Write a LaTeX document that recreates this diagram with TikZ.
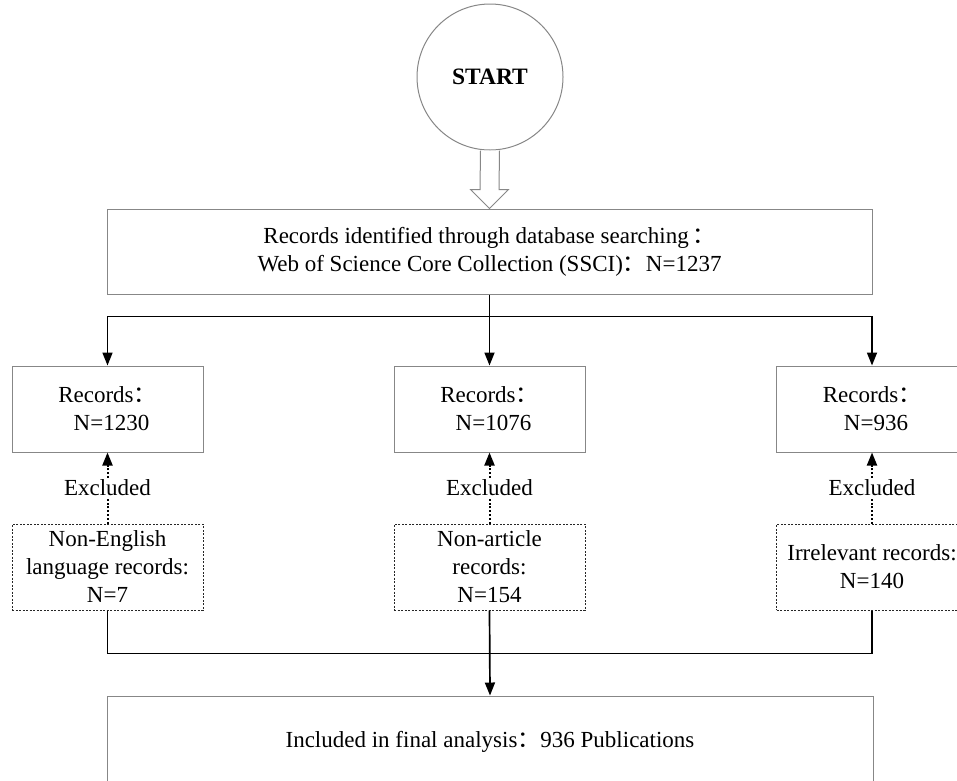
\documentclass[tikz,border=0pt]{standalone}
\usepackage{fontspec}
\setmainfont{Liberation Serif}
\newfontfamily\cjk{Noto Sans CJK SC}
\usetikzlibrary{arrows.meta,calc}
\definecolor{boxgray}{RGB}{135,135,135}
\begin{document}
\begin{tikzpicture}[x=1pt,y=-1pt,
  every node/.style={font=\fontsize{23}{28}\selectfont, align=center, inner sep=0pt},
  solidbox/.style={draw=boxgray, line width=1pt, rectangle},
  dashbox/.style={draw=black!85, line width=1pt, rectangle, dash pattern=on 2pt off 1.5pt},
  conn/.style={draw=black, line width=1.7pt},
  arr/.style={conn, -{Triangle[length=13pt,width=10pt]}},
  dotarr/.style={draw=black, line width=2pt, dash pattern=on 2pt off 1.8pt, -{Triangle[length=13pt,width=10pt]}},
  lbl/.style={fill=white, inner sep=2pt}
]
\useasboundingbox (0,0) rectangle (957,780);
\clip (0,0) rectangle (957,780);

% start
\node[draw=boxgray, line width=1pt, circle, minimum size=146pt, font=\fontsize{23.5}{28}\selectfont\bfseries] (start) at (490,77) {START};

% top box
\node[solidbox, minimum width=765pt, minimum height=85pt] (top) at (489.5,251.5)
  {\fontsize{23}{32}\selectfont Records identified through database searching\,{\cjk ：}\\
   Web of Science Core Collection (SSCI){\cjk ：}N=1237};

% hollow arrow
\draw[boxgray, line width=1pt, fill=white]
  ($(start.south)+(-9.5,0)$) -- ($(top.north)+(-9.5,-19)$) -- ($(top.north)+(-19,-19)$)
  -- (top.north) -- ($(top.north)+(19,-19)$) -- ($(top.north)+(9.5,-19)$)
  -- ($(start.south)+(9.5,0)$);

% record boxes
\node[solidbox, minimum width=191pt, minimum height=86pt] (r1) at (107.5,409)
  {\fontsize{23}{30}\selectfont Records{\cjk ：}\\\hspace*{0.35em}N=1230};
\node[solidbox, minimum width=191pt, minimum height=86pt] (r2) at (489.5,409)
  {\fontsize{23}{30}\selectfont Records{\cjk ：}\\\hspace*{0.35em}N=1076};
\node[solidbox, minimum width=191pt, minimum height=86pt] (r3) at (872,409)
  {\fontsize{23}{30}\selectfont Records{\cjk ：}\\\hspace*{0.35em}N=936};

% excluded boxes
\node[dashbox, minimum width=191pt, minimum height=86pt] (e1) at (107.5,567)
  {Non-English\\language records:\\N=7};
\node[dashbox, minimum width=191pt, minimum height=86pt] (e2) at (489.5,567)
  {Non-article\\records:\\N=154};
\node[dashbox, minimum width=191pt, minimum height=86pt] (e3) at (872,567)
  {Irrelevant records:\\N=140};

% final box
\node[solidbox, minimum width=766pt, minimum height=92pt] (fin) at (490,742)
  {Included in final analysis{\cjk ：}936 Publications};

% top connectors
\draw[conn] (top.south) -- ++(0,22) coordinate (j1);
\draw[arr] (j1) -- (r2.north);
\draw[arr] (j1) -| (r1.north);
\draw[arr] (j1) -| (r3.north);

% excluded connectors
\draw[dotarr] (e1.north) -- node[lbl] (x1) {Excluded} (r1.south);
\draw[dotarr] (e2.north) -- node[lbl] (x2) {Excluded} (r2.south);
\draw[dotarr] (e3.north) -- node[lbl] (x3) {Excluded} (r3.south);

% bottom connectors
\coordinate (j2) at ($(e2.south)+(0,43)$);
\draw[conn] (e1.south) |- (j2);
\draw[conn] (e3.south) |- (j2);
\draw[arr] (e2.south) -- (fin.north);
\end{tikzpicture}
\end{document}
